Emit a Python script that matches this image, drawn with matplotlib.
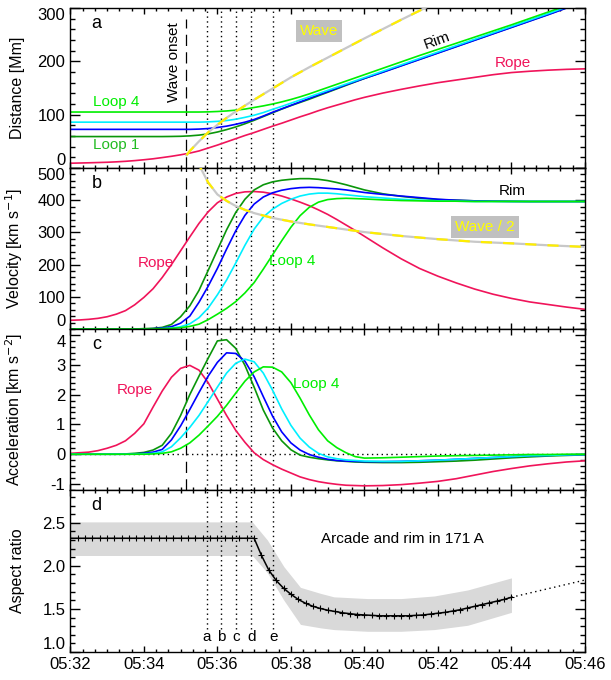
import numpy as np
import matplotlib
matplotlib.use('Agg')
import matplotlib.pyplot as plt
from matplotlib.ticker import MultipleLocator, FuncFormatter

plt.rcParams['font.family'] = ['Liberation Sans', 'DejaVu Sans']
plt.rcParams['axes.unicode_minus'] = False

# time in minutes after 05:32 UT
t = [0, 0.25, 0.5, 0.75, 1, 1.25, 1.5, 1.75,
     2, 2.25, 2.5, 2.75, 3, 3.25, 3.5, 3.75, 4, 4.25, 4.5, 4.75,
     5, 5.25, 5.5, 5.75, 6, 6.25, 6.5, 6.75, 7, 7.25, 7.5, 7.75, 8,
     8.5, 9, 9.5, 10, 10.5, 11, 11.5, 12, 12.5, 13, 13.5, 14]

# distance [Mm]
rope_d = [9, 9.4, 9.8, 10.3, 10.8, 11.6, 12.6, 13.9,
          15.5, 17.3, 19.6, 22, 24.8, 28, 32, 37.5, 43, 49, 55, 61,
          66.5, 72.5, 78.5, 84, 90, 96, 101.5, 107.5, 113, 118, 123, 128, 132.5,
          140.5, 147.5, 154, 160, 165, 170, 175, 179, 181.5, 183.5, 185, 186]
loop1_d = [59, 59, 59, 59, 59, 59, 59, 59,
           59, 59, 59, 59.2, 59.5, 60.3, 61.7, 64, 67.5, 72, 77, 83,
           89.5, 96.5, 103.5, 110.5, 117, 123, 129, 135.5, 142, 148.5, 155, 161.5, 168,
           180, 192, 204, 216, 228, 240, 252, 264, 276, 288, 300.5, 313]
loop2_d = [72.5, 72.5, 72.5, 72.5, 72.5, 72.5, 72.5, 72.5,
           72.5, 72.5, 72.5, 72.5, 72.5, 72.5, 73, 74, 76, 78.5, 82, 86,
           91, 97.5, 104.5, 111, 117.5, 124, 130.5, 137, 143, 149.5, 156, 162, 168,
           179.5, 191.5, 203.5, 215.5, 227.5, 239.5, 251.5, 263.5, 275.5, 287.5, 300, 312.5]
loop3_d = [86, 86, 86, 86, 86, 86, 86, 86,
           86, 86, 86, 86, 86, 86, 86, 86.5, 87.5, 89, 91.5, 95,
           99, 104, 110, 115.5, 121.5, 127.5, 133.5, 139.5, 145.5, 151.5, 157.5, 163.5, 169.5,
           181.5, 193.5, 205.5, 217.5, 229.5, 241.5, 253.5, 265.5, 277.5, 289.5, 302, 314.5]
loop4_d = [105, 105, 105, 105, 105, 105, 105, 105,
           105, 105, 105, 105, 105, 105, 105, 105.3, 106, 107, 108.5, 110.5,
           113.5, 116.5, 120, 124, 128.5, 133.5, 139, 145, 151, 157, 163, 169, 175,
           187, 199, 211, 222.5, 234, 245.5, 257, 268.5, 280.5, 292.5, 304.5, 316.5]

# velocity [km/s]
rope_v = [27, 28, 30, 33, 38, 46, 57, 75,
          98, 125, 160, 200, 243, 286, 328, 364, 392, 410, 421, 426,
          427, 425, 420, 413, 404, 394, 383, 370, 356, 340, 323, 306, 288,
          252, 218, 188, 164, 143, 124, 108, 95, 84, 76, 68, 61]
loop1_v = [0, 0, 0, 0, 0, 0, 0, 0,
           1, 2, 5, 14, 38, 72, 120, 182, 245, 308, 362, 403,
           432, 448, 457, 462, 465, 467, 467, 465, 461, 455, 448, 440, 432,
           420, 412, 406, 402, 400, 398, 397, 397, 396, 396, 396, 396]
loop2_v = [0, 0, 0, 0, 0, 0, 0, 0,
           0, 1, 3, 7, 18, 40, 83, 133, 188, 248, 305, 353,
           388, 410, 423, 431, 436, 439, 440, 439, 437, 435, 432, 428, 424,
           418, 413, 408, 403, 400, 398, 397, 396, 396, 396, 396, 396]
loop3_v = [0, 0, 0, 0, 0, 0, 0, 0,
           0, 0, 1, 3, 7, 16, 35, 65, 106, 152, 205, 260,
           310, 348, 372, 390, 403, 413, 419, 422, 422, 420, 417, 414, 411,
           407, 403, 400, 398, 397, 396, 396, 396, 396, 396, 396, 396]
loop4_v = [0, 0, 0, 0, 0, 0, 0, 0,
           0, 0, 1, 2, 4, 8, 15, 29, 46, 64, 85, 112,
           144, 186, 230, 274, 316, 352, 378, 394, 402, 405, 406, 405, 404,
           401, 399, 398, 397, 397, 396, 396, 396, 396, 396, 396, 396]

# acceleration [km/s^2]
rope_a = [0.03, 0.05, 0.07, 0.12, 0.2, 0.3, 0.45, 0.7,
          1.02, 1.58, 2.12, 2.58, 2.88, 2.98, 2.82, 2.40, 1.85, 1.30, 0.80, 0.40,
          0.05, -0.18, -0.35, -0.50, -0.63, -0.76, -0.85, -0.92, -0.97, -1.01, -1.04, -1.05, -1.06,
          -1.05, -1.02, -0.97, -0.91, -0.82, -0.70, -0.58, -0.48, -0.39, -0.32, -0.26, -0.22]
loop1_a = [0, 0, 0, 0, 0, 0, 0.01, 0.03,
           0.06, 0.14, 0.30, 0.70, 1.30, 2.00, 2.62, 3.22, 3.80, 3.84, 3.55, 2.98,
           2.25, 1.48, 0.88, 0.45, 0.15, -0.03, -0.10, -0.15, -0.19, -0.22, -0.24, -0.26, -0.27,
           -0.28, -0.28, -0.27, -0.25, -0.23, -0.20, -0.16, -0.12, -0.09, -0.06, -0.04, -0.02]
loop2_a = [0, 0, 0, 0, 0, 0, 0, 0.01,
           0.03, 0.07, 0.16, 0.48, 0.95, 1.50, 2.07, 2.62, 3.08, 3.40, 3.38, 3.12,
           2.60, 1.93, 1.28, 0.75, 0.38, 0.14, -0.01, -0.10, -0.17, -0.21, -0.23, -0.24, -0.25,
           -0.25, -0.24, -0.22, -0.20, -0.17, -0.14, -0.11, -0.08, -0.05, -0.04, -0.02, -0.01]
loop3_a = [0, 0, 0, 0, 0, 0, 0, 0,
           0.01, 0.03, 0.08, 0.25, 0.55, 0.90, 1.30, 1.77, 2.25, 2.72, 3.05, 3.19,
           3.10, 2.72, 2.15, 1.52, 0.97, 0.54, 0.24, 0.03, -0.09, -0.15, -0.19, -0.21, -0.23,
           -0.24, -0.24, -0.22, -0.20, -0.17, -0.14, -0.11, -0.08, -0.05, -0.04, -0.02, -0.01]
loop4_a = [0, 0, 0, 0, 0, 0, 0, 0,
           0, 0.01, 0.03, 0.08, 0.20, 0.38, 0.64, 0.95, 1.27, 1.64, 2.05, 2.45,
           2.76, 2.93, 2.92, 2.76, 2.40, 1.88, 1.32, 0.82, 0.45, 0.22, 0.05, -0.08, -0.13,
           -0.12, -0.10, -0.08, -0.06, -0.05, -0.04, -0.03, -0.02, -0.01, -0.01, 0, 0]

# EUV wave front
wave_t = [3.16, 3.25, 3.5, 3.75, 4, 4.25, 4.5, 4.75, 5, 5.5, 6, 6.5, 7, 7.5, 8, 9, 10, 11, 12, 13, 14]
wave_d = [24, 32, 50, 67, 81, 94, 106, 117, 128, 149, 170, 189, 207, 225, 243, 278, 312, 345, 378, 410, 441]
wave_half_v = [800, 620, 510, 455, 418, 398, 382, 370, 360, 345, 334, 325, 317, 309, 301, 289,
               279, 271, 266, 260, 255]

# aspect ratio, 12 s cadence from 05:32 to 05:44
ar_t = [i * 0.2 for i in range(61)]
ar = [2.32] * 26 + [2.12, 1.95, 1.83, 1.74, 1.67, 1.61, 1.565, 1.53, 1.505, 1.485,
                    1.47, 1.455, 1.445, 1.435, 1.43, 1.425, 1.42, 1.42, 1.42, 1.42,
                    1.42, 1.425, 1.43, 1.44, 1.45, 1.46, 1.475, 1.49, 1.51, 1.53,
                    1.55, 1.57, 1.59, 1.61, 1.635]
band_t = [0, 4.95, 5.36, 5.81, 6.26, 6.81, 7.17, 8.08, 9.0, 9.9, 10.81, 12.0]
band_hi = [2.51, 2.51, 2.30, 1.99, 1.75, 1.68, 1.64, 1.62, 1.62, 1.65, 1.72, 1.86]
band_lo = [2.12, 2.12, 1.92, 1.60, 1.32, 1.28, 1.26, 1.24, 1.24, 1.26, 1.31, 1.46]
ext_t = [12, 14]
ext_ar = [1.635, 1.835]

onset = 3.16
marks = [3.72, 4.11, 4.52, 4.92, 5.52]
mark_labels = ['a', 'b', 'c', 'd', 'e']

ROPE = '#f0145a'
C1 = '#0a960a'
C2 = '#0000ff'
C3 = '#00f0ff'
C4 = '#00ee00'
DOT = (0, (1, 2.5))

fig = plt.figure(figsize=(6.11, 6.80), dpi=100)
L, W = 0.1151, 0.8423
axa = fig.add_axes([L, 0.7529, W, 0.2353])
axb = fig.add_axes([L, 0.5162, W, 0.2367])
axc = fig.add_axes([L, 0.2794, W, 0.2368])
axd = fig.add_axes([L, 0.0412, W, 0.2382])


def style(ax, yticks, ylim, minor, label, letter, edge_top=True, edge_bottom=True):
    ax.set_xlim(0, 14)
    ax.set_xticks([0, 2, 4, 6, 8, 10, 12, 14])
    ax.xaxis.set_minor_locator(MultipleLocator(1 / 3))
    ax.set_yticks(yticks)
    ax.set_ylim(*ylim)
    ax.yaxis.set_minor_locator(MultipleLocator(minor))
    ax.tick_params(which='both', direction='in', top=True, right=True, labelsize=12, width=1)
    ax.tick_params(axis='x', which='major', length=4)
    ax.tick_params(axis='x', which='minor', length=2)
    ax.tick_params(axis='y', which='major', length=7)
    ax.tick_params(axis='y', which='minor', length=3.5)
    ax.set_ylabel(label, fontsize=11.5)
    ax.yaxis.set_label_coords(-0.088, 0.5)
    ax.text(0.051, 0.905, letter, transform=ax.transAxes, fontsize=13, ha='center', va='center')
    ticks = ax.yaxis.get_major_ticks()
    if edge_bottom:
        ticks[0].label1.set_va('bottom')
    if edge_top:
        ticks[-1].label1.set_va('top')
    for s in ax.spines.values():
        s.set_linewidth(1)


def verticals(ax, onset_top=1.0):
    ax.axvline(onset, ymax=onset_top, color='k', lw=0.9, linestyle=(0, (9, 5)))
    for m in marks:
        ax.axvline(m, color='k', lw=1, linestyle=DOT)


def wave(ax, x, y):
    ax.plot(x, y, color='#c8c8c8', lw=1.6, zorder=4)
    ax.plot(x, y, color='#ffee00', lw=1.6, linestyle=(0, (5, 5)), zorder=5)


def label(ax, x, y, s, color='k', **kw):
    ax.text(x, y, s, color=color, ha='center', va='center', fontsize=11, **kw)


# a: distance
style(axa, [0, 100, 200, 300], (0, 300), 20, 'Distance [Mm]', 'a')
verticals(axa, onset_top=0.93)
for y, c in [(rope_d, ROPE), (loop1_d, C1), (loop2_d, C2), (loop3_d, C3), (loop4_d, C4)]:
    axa.plot(t, y, color=c, lw=1.2)
wave(axa, wave_t, wave_d)
label(axa, 2.81, 199, 'Wave onset', rotation=90)
label(axa, 6.76, 257, 'Wave', color='#ffff00',
      bbox=dict(facecolor='#c0c0c0', edgecolor='none', pad=3))
label(axa, 9.97, 238, 'Rim', rotation=20)
label(axa, 12.04, 196, 'Rope', color=ROPE)
label(axa, 1.24, 124, 'Loop 4', color=C4)
label(axa, 1.24, 43, 'Loop 1', color='#22bb22')

# b: velocity
style(axb, [0, 100, 200, 300, 400, 500], (0, 500), 20, 'Velocity [km s$^{-1}$]', 'b')
verticals(axb)
for y, c in [(rope_v, ROPE), (loop1_v, C1), (loop2_v, C2), (loop3_v, C3), (loop4_v, C4)]:
    axb.plot(t, y, color=c, lw=1.2)
wave(axb, wave_t, wave_half_v)
label(axb, 12.02, 429, 'Rim')
label(axb, 11.27, 316, 'Wave / 2', color='#ffff00',
      bbox=dict(facecolor='#c0c0c0', edgecolor='none', pad=3))
label(axb, 2.33, 205, 'Rope', color=ROPE)
label(axb, 6.04, 210, 'Loop 4', color=C4)

# c: acceleration
style(axc, [-1, 0, 1, 2, 3, 4], (-1.2, 4.2), 0.2, 'Acceleration [km s$^{-2}$]', 'c',
      edge_bottom=False)
verticals(axc)
axc.axhline(0, color='k', lw=1, linestyle=DOT)
for y, c in [(rope_a, ROPE), (loop1_a, C1), (loop2_a, C2), (loop3_a, C3), (loop4_a, C4)]:
    axc.plot(t, y, color=c, lw=1.2)
label(axc, 1.76, 2.17, 'Rope', color=ROPE)
label(axc, 6.7, 2.35, 'Loop 4', color=C4)

# d: aspect ratio
style(axd, [1.0, 1.5, 2.0, 2.5], (1.0, 2.88), 0.1, 'Aspect ratio', 'd', edge_top=False)
axd.yaxis.set_major_formatter(FuncFormatter(lambda v, p: '%.1f' % v))
axd.fill_between(band_t, band_lo, band_hi, color='#d9d9d9', lw=0)
for m, lab in zip(marks, mark_labels):
    axd.axvline(m, ymin=(1.27 - 1.0) / 1.88, color='k', lw=1, linestyle=DOT)
    label(axd, m, 1.17, lab)
axd.plot(ar_t, ar, color='k', lw=1.1, marker='+', ms=5, mew=0.8)
axd.plot(ext_t, ext_ar, color='k', lw=1, linestyle=DOT)
label(axd, 9.02, 2.31, 'Arcade and rim in 171 A')

for ax in (axa, axb, axc):
    ax.tick_params(axis='x', labelbottom=False)
axd.xaxis.set_major_formatter(FuncFormatter(lambda v, p: '05:%02d' % (32 + int(round(v)))))

fig.savefig('out.png', dpi=100)
